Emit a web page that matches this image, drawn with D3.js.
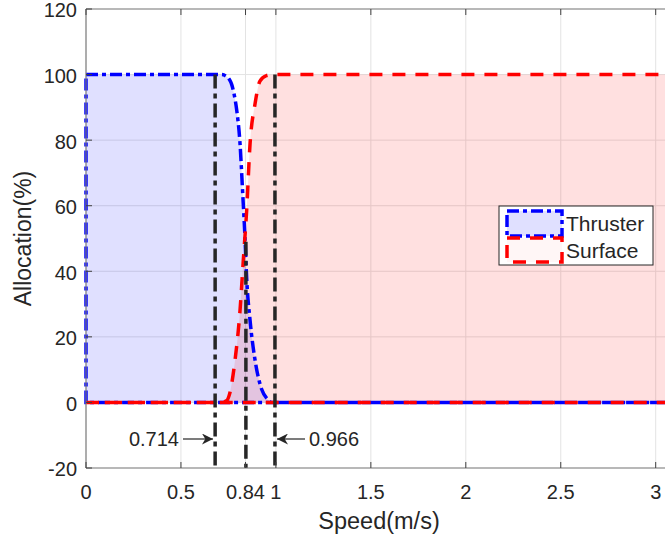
<!DOCTYPE html>
<html>
<head>
<meta charset="utf-8">
<script src="https://cdn.jsdelivr.net/npm/d3@7"></script>
<style>
  body { margin: 0; background: #fff; }
  text { font-family: "Liberation Sans", Arial, sans-serif; fill: #262626; }
</style>
</head>
<body>
<div id="chart"></div>
<script>
// data
var xTicks = [0, 0.5, 0.84, 1, 1.5, 2, 2.5, 3];
var yTicks = [-20, 0, 20, 40, 60, 80, 100, 120];

var thrusterX = [0, 0.714, 0.735, 0.755, 0.767, 0.78, 0.794, 0.811, 0.825, 0.837, 0.846, 0.864, 0.89, 0.925, 0.955, 0.978, 3.6];
var thrusterY = [100, 100, 99.6, 98.5, 97, 94, 89, 79, 64, 50.5, 38, 25, 13, 4, 1, 0, 0];

var surfaceX = [0, 0.714, 0.74, 0.758, 0.785, 0.811, 0.828, 0.846, 0.864, 0.89, 0.916, 0.95, 0.985, 3.6];
var surfaceY = [0, 0, 0.5, 3, 13, 28, 43, 58.6, 79, 91, 98, 99.7, 100, 100];

var markerX = [0.68, 0.842, 0.995];
var markerTop = [100, 49, 100];

var margin = {top: 9, left: 86};
var W = 665, H = 540;
var plotBottom = 468;

var svg = d3.select("#chart").append("svg")
  .attr("width", W)
  .attr("height", H);

var x = d3.scaleLinear().domain([0, 3.6]).range([margin.left, margin.left + 3.6 * 189.9]);
var y = d3.scaleLinear().domain([-20, 120]).range([plotBottom, margin.top]);

// grid
svg.append("g").selectAll("line").data(xTicks).enter().append("line")
  .attr("x1", function(d) { return x(d); }).attr("x2", function(d) { return x(d); })
  .attr("y1", y(-20)).attr("y2", y(120))
  .attr("stroke", "#e3e3e3").attr("stroke-width", 1);
svg.append("g").selectAll("line").data(yTicks).enter().append("line")
  .attr("x1", x(0)).attr("x2", W)
  .attr("y1", function(d) { return y(d); }).attr("y2", function(d) { return y(d); })
  .attr("stroke", "#e3e3e3").attr("stroke-width", 1);

var thruster = thrusterX.map(function(d, i) { return [d, thrusterY[i]]; });
var surface = surfaceX.map(function(d, i) { return [d, surfaceY[i]]; });

var area = d3.area()
  .x(function(d) { return x(d[0]); })
  .y0(y(0))
  .y1(function(d) { return y(d[1]); })
  .curve(d3.curveMonotoneX);

// fills
svg.append("path").datum(thruster).attr("d", area)
  .attr("fill", "#0000ff").attr("fill-opacity", 0.12).attr("stroke", "none");
svg.append("path").datum(surface).attr("d", area)
  .attr("fill", "#ff0000").attr("fill-opacity", 0.12).attr("stroke", "none");

// outlines
svg.append("path").datum(thruster).attr("d", area)
  .attr("fill", "none").attr("stroke", "#0000ff").attr("stroke-width", 3.5)
  .attr("stroke-dasharray", "12,4,4,4");
svg.append("path").datum(surface).attr("d", area)
  .attr("fill", "none").attr("stroke", "#ff0000").attr("stroke-width", 3.5)
  .attr("stroke-dasharray", "13,10");

// vertical markers
svg.append("g").selectAll("line").data(markerX).enter().append("line")
  .attr("x1", function(d) { return x(d); }).attr("x2", function(d) { return x(d); })
  .attr("y1", function(d, i) { return y(markerTop[i]); })
  .attr("y2", y(-20))
  .attr("stroke", "#262626").attr("stroke-width", 3.5)
  .attr("stroke-dasharray", "14,5,5,5");

// axes box
svg.append("line").attr("x1", x(0)).attr("x2", x(0)).attr("y1", y(-20)).attr("y2", y(120))
  .attr("stroke", "#808080").attr("stroke-width", 1.2);
svg.append("line").attr("x1", x(0)).attr("x2", W).attr("y1", y(-20)).attr("y2", y(-20))
  .attr("stroke", "#808080").attr("stroke-width", 1.2);
svg.append("line").attr("x1", x(0)).attr("x2", W).attr("y1", y(120)).attr("y2", y(120))
  .attr("stroke", "#808080").attr("stroke-width", 1.2);

// tick marks
xTicks.forEach(function(d) {
  svg.append("line").attr("x1", x(d)).attr("x2", x(d)).attr("y1", y(-20)).attr("y2", y(-20) - 6)
    .attr("stroke", "#404040").attr("stroke-width", 1);
  svg.append("line").attr("x1", x(d)).attr("x2", x(d)).attr("y1", y(120)).attr("y2", y(120) + 6)
    .attr("stroke", "#404040").attr("stroke-width", 1);
});
yTicks.forEach(function(d) {
  svg.append("line").attr("x1", x(0)).attr("x2", x(0) + 6).attr("y1", y(d)).attr("y2", y(d))
    .attr("stroke", "#404040").attr("stroke-width", 1);
});

// tick labels
svg.append("g").selectAll("text").data(xTicks).enter().append("text")
  .attr("x", function(d) { return x(d); })
  .attr("y", 499)
  .attr("text-anchor", "middle")
  .style("font-size", "20px")
  .text(function(d) { return d; });
svg.append("g").selectAll("text").data(yTicks).enter().append("text")
  .attr("x", 77)
  .attr("y", function(d) { return y(d); })
  .attr("dy", "0.42em")
  .attr("text-anchor", "end")
  .style("font-size", "20px")
  .text(function(d) { return d; });

// axis titles
svg.append("text")
  .attr("x", 379).attr("y", 529)
  .attr("text-anchor", "middle")
  .style("font-size", "23.5px")
  .text("Speed(m/s)");
svg.append("text")
  .attr("transform", "translate(31," + y(50) + ") rotate(-90)")
  .attr("text-anchor", "middle")
  .style("font-size", "23px")
  .text("Allocation(%)");

// annotations
var defs = svg.append("defs");
defs.append("marker").attr("id", "arrow")
  .attr("viewBox", "0 0 10 10").attr("refX", 10).attr("refY", 5)
  .attr("markerWidth", 13).attr("markerHeight", 11).attr("markerUnits", "userSpaceOnUse")
  .attr("orient", "auto")
  .append("path").attr("d", "M0,0 L10,5 L0,10 L3,5 Z").attr("fill", "#262626");

svg.append("line").attr("x1", 183).attr("x2", 213).attr("y1", 439).attr("y2", 439)
  .attr("stroke", "#262626").attr("stroke-width", 1.2).attr("marker-end", "url(#arrow)");
svg.append("text").attr("x", 179).attr("y", 439).attr("dy", "0.35em")
  .attr("text-anchor", "end").style("font-size", "20px").text("0.714");

svg.append("line").attr("x1", 305).attr("x2", 277).attr("y1", 439).attr("y2", 439)
  .attr("stroke", "#262626").attr("stroke-width", 1.2).attr("marker-end", "url(#arrow)");
svg.append("text").attr("x", 309).attr("y", 439).attr("dy", "0.35em")
  .attr("text-anchor", "start").style("font-size", "20px").text("0.966");

// legend
var legend = svg.append("g").attr("transform", "translate(499,206)");
legend.append("rect").attr("width", 154).attr("height", 59)
  .attr("fill", "#fff").attr("stroke", "#262626").attr("stroke-width", 1);
legend.append("rect").attr("x", 8).attr("y", 5).attr("width", 55).attr("height", 25)
  .attr("fill", "#e0e0ff").attr("stroke", "#0000ff").attr("stroke-width", 3.5)
  .attr("stroke-dasharray", "12,4,4,4");
legend.append("rect").attr("x", 8).attr("y", 32).attr("width", 55).attr("height", 24)
  .attr("fill", "#fff6f6").attr("stroke", "#ff0000").attr("stroke-width", 3.5)
  .attr("stroke-dasharray", "13,10");
legend.append("text").attr("x", 67).attr("y", 18).attr("dy", "0.35em")
  .style("font-size", "21px").text("Thruster");
legend.append("text").attr("x", 67).attr("y", 45).attr("dy", "0.35em")
  .style("font-size", "21px").text("Surface");
</script>
</body>
</html>
